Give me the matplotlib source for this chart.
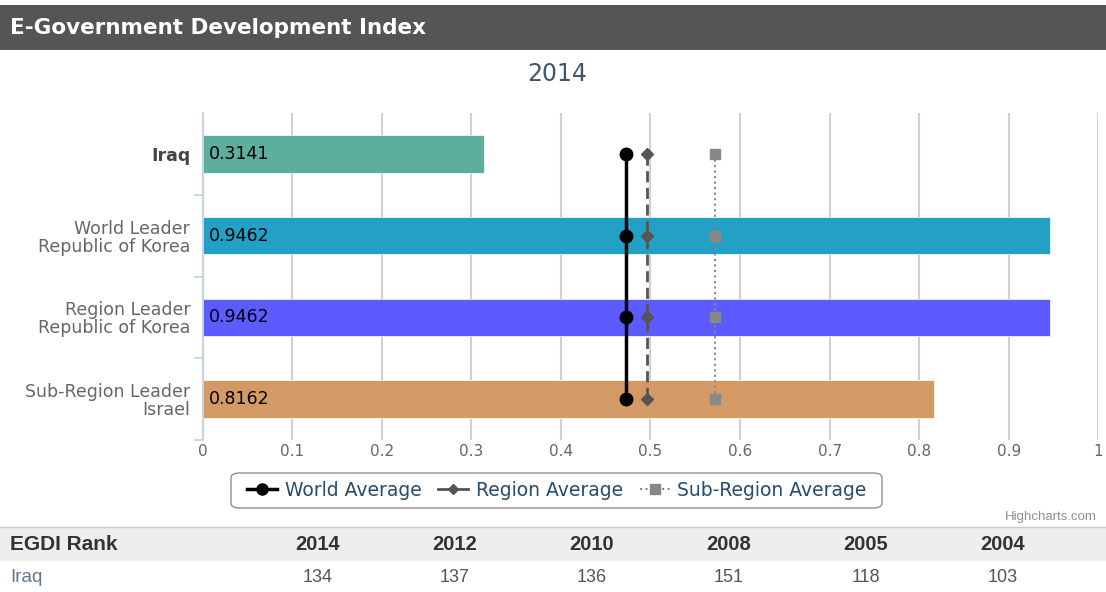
"""
E-Government Development Index, 2014 - Iraq vs. leaders, with average markers,
plus the EGDI rank table underneath.
"""
import matplotlib
matplotlib.use("Agg")
import matplotlib.pyplot as plt
from matplotlib.lines import Line2D
from matplotlib.patches import FancyBboxPatch, Rectangle

# ── data ────────────────────────────────────────────────────────────────
categories = ["Iraq", "World Leader\nRepublic of Korea",
              "Region Leader\nRepublic of Korea", "Sub-Region Leader\nIsrael"]
egdi_values = [0.3141, 0.9462, 0.9462, 0.8162]
bar_colors = ["#5DAE9C", "#23A0C5", "#5B5BFF", "#D39A66"]

world_avg = 0.4724
region_avg = 0.4959
subregion_avg = 0.5723

rank_years = ["2014", "2012", "2010", "2008", "2005", "2004"]
rank_iraq = [134, 137, 136, 151, 118, 103]

W, H = 1106, 592
plt.rcParams["font.family"] = ["DejaVu Sans"]
fig = plt.figure(figsize=(W / 100, H / 100), dpi=100)
fig.patch.set_facecolor("white")


def fx(px):
    return px / W


def fy(py):
    return 1 - py / H


# header band
fig.patches.append(Rectangle((0, fy(50)), 1, (50 - 5) / H, transform=fig.transFigure,
                             facecolor="#555555", edgecolor="none"))
fig.text(fx(10), fy(28), "E-Government Development Index", color="white",
         fontsize=15.5, fontweight="bold", va="center", ha="left")
fig.text(fx(557), fy(74), "2014", color="#3E576F", fontsize=17,
         ha="center", va="center")

# ── chart ───────────────────────────────────────────────────────────────
left, right, top, bottom = 202.7, 1098.3, 113, 440
ax = fig.add_axes([fx(left), fy(bottom), fx(right - left), (bottom - top) / H])
ypos = list(range(len(categories)))
ax.barh(ypos, egdi_values, height=0.46, color=bar_colors,
        edgecolor="white", linewidth=0.5, zorder=2)
for y, v in zip(ypos, egdi_values):
    ax.text(0.007, y, f"{v:.4f}", va="center", ha="left", fontsize=12.5,
            color="black", zorder=5)

ax.plot([world_avg] * 4, ypos, color="black", lw=2.5, marker="o",
        markersize=9, zorder=4)
ax.plot([region_avg] * 4, ypos, color="#555555", lw=2, ls=(0, (4, 2)),
        marker="D", markersize=6.5, zorder=4)
ax.plot([subregion_avg] * 4, ypos, color="#888888", lw=1.5, ls=":",
        marker="s", markersize=7, zorder=4)

ax.set_xlim(0, 1)
ax.set_ylim(3.5, -0.5)
ax.set_xticks([i / 10 for i in range(11)])
ax.set_xticklabels(["0"] + [f"0.{i}" for i in range(1, 10)] + ["1"])
ax.tick_params(axis="x", length=0, colors="#666666", labelsize=11, pad=3)
ax.set_yticks(ypos)
ax.set_yticklabels(categories, fontsize=12.5, color="#666666", linespacing=1.0)
ax.get_yticklabels()[0].set_fontweight("bold")
ax.get_yticklabels()[0].set_color("#444444")
ax.tick_params(axis="y", length=0, pad=9)
for yb in [0.5, 1.5, 2.5, 3.5]:
    ax.plot([-0.009, 0], [yb, yb], color="#C0D0E0", lw=1.2, clip_on=False)
ax.grid(axis="x", color="#D0D0D0", lw=1.5, zorder=0)
for s in ["top", "right", "bottom"]:
    ax.spines[s].set_visible(False)
ax.spines["left"].set_color("#C0D0E0")
ax.spines["left"].set_linewidth(1.2)

# legend
fig.patches.append(FancyBboxPatch((fx(231), fy(508)), fx(651), 35 / H,
                                  boxstyle="round,pad=0,rounding_size=0.008",
                                  transform=fig.transFigure, facecolor="white",
                                  edgecolor="#909090", linewidth=1))
handles = [
    Line2D([], [], color="black", lw=2.5, marker="o", markersize=8),
    Line2D([], [], color="#555555", lw=2, marker="D", markersize=5.5),
    Line2D([], [], color="#888888", lw=1.5, ls=":", marker="s", markersize=6.5),
]
fig.legend(handles, ["World Average", "Region Average", "Sub-Region Average"],
           loc="center", bbox_to_anchor=(fx(557), fy(490)), ncol=3, frameon=False,
           fontsize=13.5, labelcolor="#274B6D", handlelength=1.6, handletextpad=0.4,
           columnspacing=0.9)

fig.text(fx(1097), fy(517), "Highcharts.com", color="#909090", fontsize=9.5,
         ha="right", va="center", family=["Liberation Sans Narrow", "Liberation Sans"])

# ── rank table ──────────────────────────────────────────────────────────
fig.patches.append(Rectangle((0, fy(561)), 1, 34 / H, transform=fig.transFigure,
                             facecolor="#EEEEEE", edgecolor="none"))
fig.lines.append(Line2D([0, 1], [fy(527), fy(527)], transform=fig.transFigure,
                        color="#CCCCCC", lw=1))
table_font = ["Liberation Sans"]
fig.text(fx(10), fy(544), "EGDI Rank", fontsize=15, fontweight="bold",
         color="#333333", va="center", family=table_font)
fig.text(fx(10), fy(577), "Iraq", fontsize=13.5, color="#5F7890", va="center",
         family=table_font)
col_x = [318, 455, 592, 729, 866, 1003]
for x, year, rank in zip(col_x, rank_years, rank_iraq):
    fig.text(fx(x), fy(544), year, fontsize=14.5, fontweight="bold",
             color="#333333", ha="center", va="center", family=table_font)
    fig.text(fx(x), fy(577), str(rank), fontsize=13, color="#555555",
             ha="center", va="center", family=table_font)

fig.savefig("out.png", dpi=100)
